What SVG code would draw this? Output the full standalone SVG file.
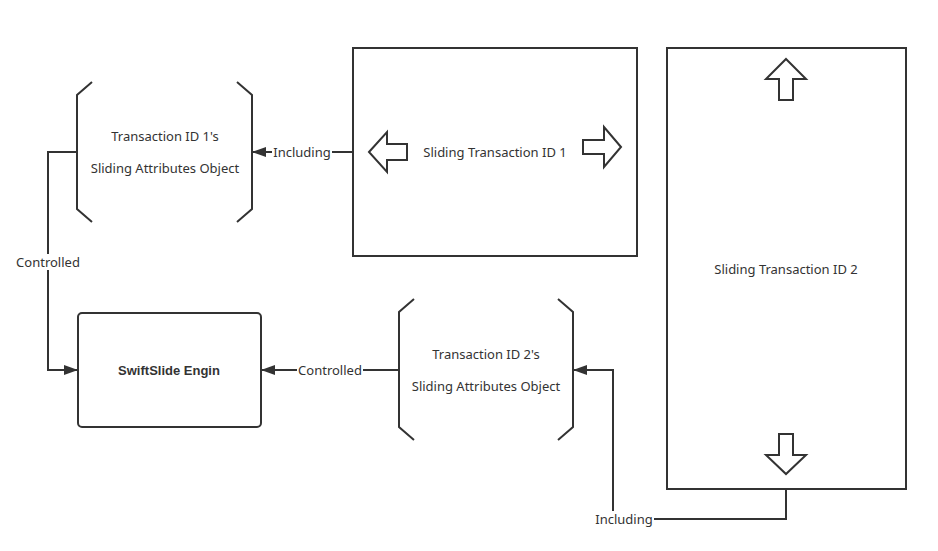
<svg xmlns="http://www.w3.org/2000/svg" width="938" height="551" viewBox="0 0 938 551">
<style>
.shape{fill:#fff;stroke:#333;stroke-width:2}
.brk{fill:none;stroke:#333;stroke-width:2}
.blk{fill:#fff;stroke:#333;stroke-width:2;stroke-linejoin:miter}
.edge{fill:none;stroke:#333;stroke-width:2}
.t{font-family:"Noto Sans","Liberation Sans",Arial,sans-serif;font-size:13px;fill:#333;text-anchor:middle;dominant-baseline:central}
.b{font-weight:bold;font-family:"Liberation Sans",Arial,sans-serif}
.lbg{fill:#fff}
</style>
<defs>
<marker id="ah" viewBox="0 0 14 10" refX="14" refY="5" markerWidth="14" markerHeight="10" markerUnits="userSpaceOnUse" orient="auto">
<path d="M0,0 L14,5 L0,10 Z" fill="#333"/>
</marker>
</defs>
<rect width="938" height="551" fill="#fff"/>
<g id="edges">
<path class="edge" d="M353,152 L252,152" marker-end="url(#ah)"/>
<path class="edge" d="M77,152 L48,152 L48,370 L78,370" marker-end="url(#ah)"/>
<path class="edge" d="M399,370 L261,370" marker-end="url(#ah)"/>
<path class="edge" d="M786,489 L786,519 L613,519 L613,370 L573,370" marker-end="url(#ah)"/>
<rect class="lbg" x="272" y="144" width="60" height="16"/>
<text class="t" x="302" y="152">Including</text>
<rect class="lbg" x="15" y="254" width="66" height="16"/>
<text class="t" x="48" y="262">Controlled</text>
<rect class="lbg" x="297" y="362" width="66" height="16"/>
<text class="t" x="330" y="370">Controlled</text>
<rect class="lbg" x="594" y="511" width="60" height="16"/>
<text class="t" x="624" y="519">Including</text>
</g>
<g id="attr1">
<path class="brk" d="M92,82 L77,95 L77,209 L92,222"/>
<path class="brk" d="M237,82 L252,95 L252,209 L237,222"/>
<text class="t" x="165" y="136">Transaction ID 1's</text>
<text class="t" x="165" y="168">Sliding Attributes Object</text>
</g>
<g id="slide1">
<rect class="shape" x="353" y="48" width="284" height="208"/>
<path class="blk" d="M369,152 L387,132 L387,144 L407,144 L407,160 L387,160 L387,172 Z"/>
<path class="blk" d="M621,147 L604,127 L604,140 L583,140 L583,154 L604,154 L604,167 Z"/>
<text class="t" x="495" y="152">Sliding Transaction ID 1</text>
</g>
<g id="slide2">
<rect class="shape" x="667" y="48" width="239" height="441"/>
<path class="blk" d="M786,59 L806,79 L793,79 L793,100 L779,100 L779,79 L766,79 Z"/>
<path class="blk" d="M779,434 L793,434 L793,455 L806,455 L786,474 L766,455 L779,455 Z"/>
<text class="t" x="786" y="269">Sliding Transaction ID 2</text>
</g>
<g id="engine">
<rect class="shape" x="78" y="313" width="183" height="114" rx="4"/>
<text class="t b" x="169" y="370">SwiftSlide Engin</text>
</g>
<g id="attr2">
<path class="brk" d="M414,299 L399,312 L399,427 L414,440"/>
<path class="brk" d="M558,299 L573,312 L573,427 L558,440"/>
<text class="t" x="486" y="354">Transaction ID 2's</text>
<text class="t" x="486" y="386">Sliding Attributes Object</text>
</g>
</svg>
